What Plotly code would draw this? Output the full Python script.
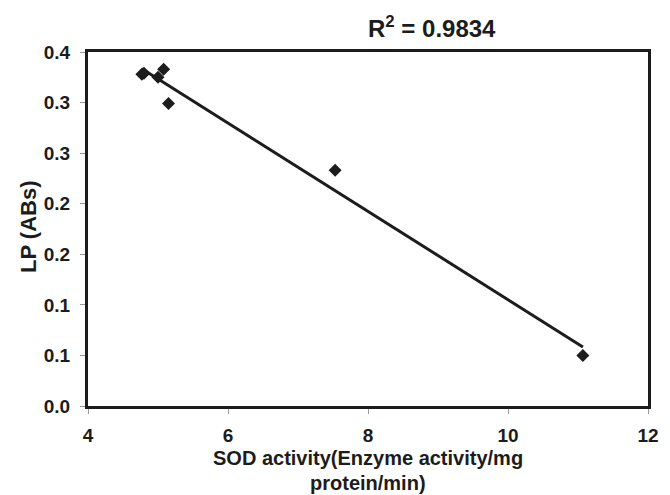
import numpy as np
import plotly.graph_objects as go

# data
sod_activity = [4.77, 4.80, 5.00, 5.08, 5.15, 7.53, 11.07]
lp_abs = [0.328, 0.329, 0.325, 0.333, 0.299, 0.233, 0.050]

x_ticks = [4, 6, 8, 10, 12]
y_ticks = [0.0, 0.05, 0.10, 0.15, 0.20, 0.25, 0.30, 0.35]
y_tick_labels = ["0.0", "0.1", "0.1", "0.2", "0.2", "0.3", "0.3", "0.4"]
r2_label = "R<sup>2</sup> = 0.9834"
x_title_lines = ["SOD activity(Enzyme activity/mg", "protein/min)"]
y_title = "LP (ABs)"

slope, intercept = np.polyfit(sod_activity, lp_abs, 1)
trend_x = [min(sod_activity), max(sod_activity)]
trend_y = [slope * v + intercept for v in trend_x]

FONT = "Liberation Sans, Arial, sans-serif"
INK = "#1c1c1c"

# the page body has an 8px margin, so the figure starts 8px in from the window corner
OFF = 8
W, H = 670 - OFF, 495 - OFF
L, T, R, B = 88 - OFF, 52 - OFF, 22, 89

fig = go.Figure()
fig.add_trace(go.Scatter(
    x=trend_x, y=trend_y, mode="lines",
    line=dict(color=INK, width=3), showlegend=False, hoverinfo="skip"))
fig.add_trace(go.Scatter(
    x=sod_activity, y=lp_abs, mode="markers",
    marker=dict(symbol="diamond", size=10, color=INK, line=dict(width=0)),
    showlegend=False))

fig.update_layout(
    width=W, height=H,
    margin=dict(l=L, r=R, t=T, b=B),
    paper_bgcolor="white", plot_bgcolor="white",
    font=dict(family=FONT, color=INK),
)
fig.update_xaxes(
    range=[4, 12], tickvals=x_ticks, ticktext=[str(v) for v in x_ticks],
    showgrid=False, zeroline=False,
    showline=True, linecolor=INK, linewidth=3, mirror=True,
    ticks="outside", ticklen=5, tickwidth=1, tickcolor="#999999",
    ticklabelstandoff=5,
    tickfont=dict(family=FONT, size=19, color=INK, weight="bold"),
)
fig.update_yaxes(
    range=[0, 0.35], tickvals=y_ticks, ticktext=y_tick_labels,
    showgrid=False, zeroline=False,
    showline=True, linecolor=INK, linewidth=3, mirror=True,
    ticks="outside", ticklen=5, tickwidth=1, tickcolor="#999999",
    ticklabelstandoff=6,
    tickfont=dict(family=FONT, size=19, color=INK, weight="bold"),
)

plot_h = H - T - B
plot_w = W - L - R
def paper_y(screen_px):
    return (H - B - (screen_px - OFF)) / plot_h

def paper_x(screen_px):
    return ((screen_px - OFF) - L) / plot_w

fig.add_annotation(
    text=r2_label, xref="paper", yref="paper",
    x=paper_x(432), y=paper_y(27), xanchor="center", yanchor="middle",
    showarrow=False, font=dict(family=FONT, size=24, color=INK, weight="bold"))
for line_text, line_y in zip(x_title_lines, [458, 483]):
    fig.add_annotation(
        text=line_text, xref="paper", yref="paper",
        x=0.5, y=paper_y(line_y), xanchor="center", yanchor="middle",
        showarrow=False, font=dict(family=FONT, size=20, color=INK, weight="bold"))
fig.add_annotation(
    text=y_title, xref="paper", yref="paper", textangle=-90,
    x=paper_x(28), y=paper_y(227), xanchor="center", yanchor="middle",
    showarrow=False, font=dict(family=FONT, size=22, color=INK, weight="bold"))

fig.write_html("out.html")
